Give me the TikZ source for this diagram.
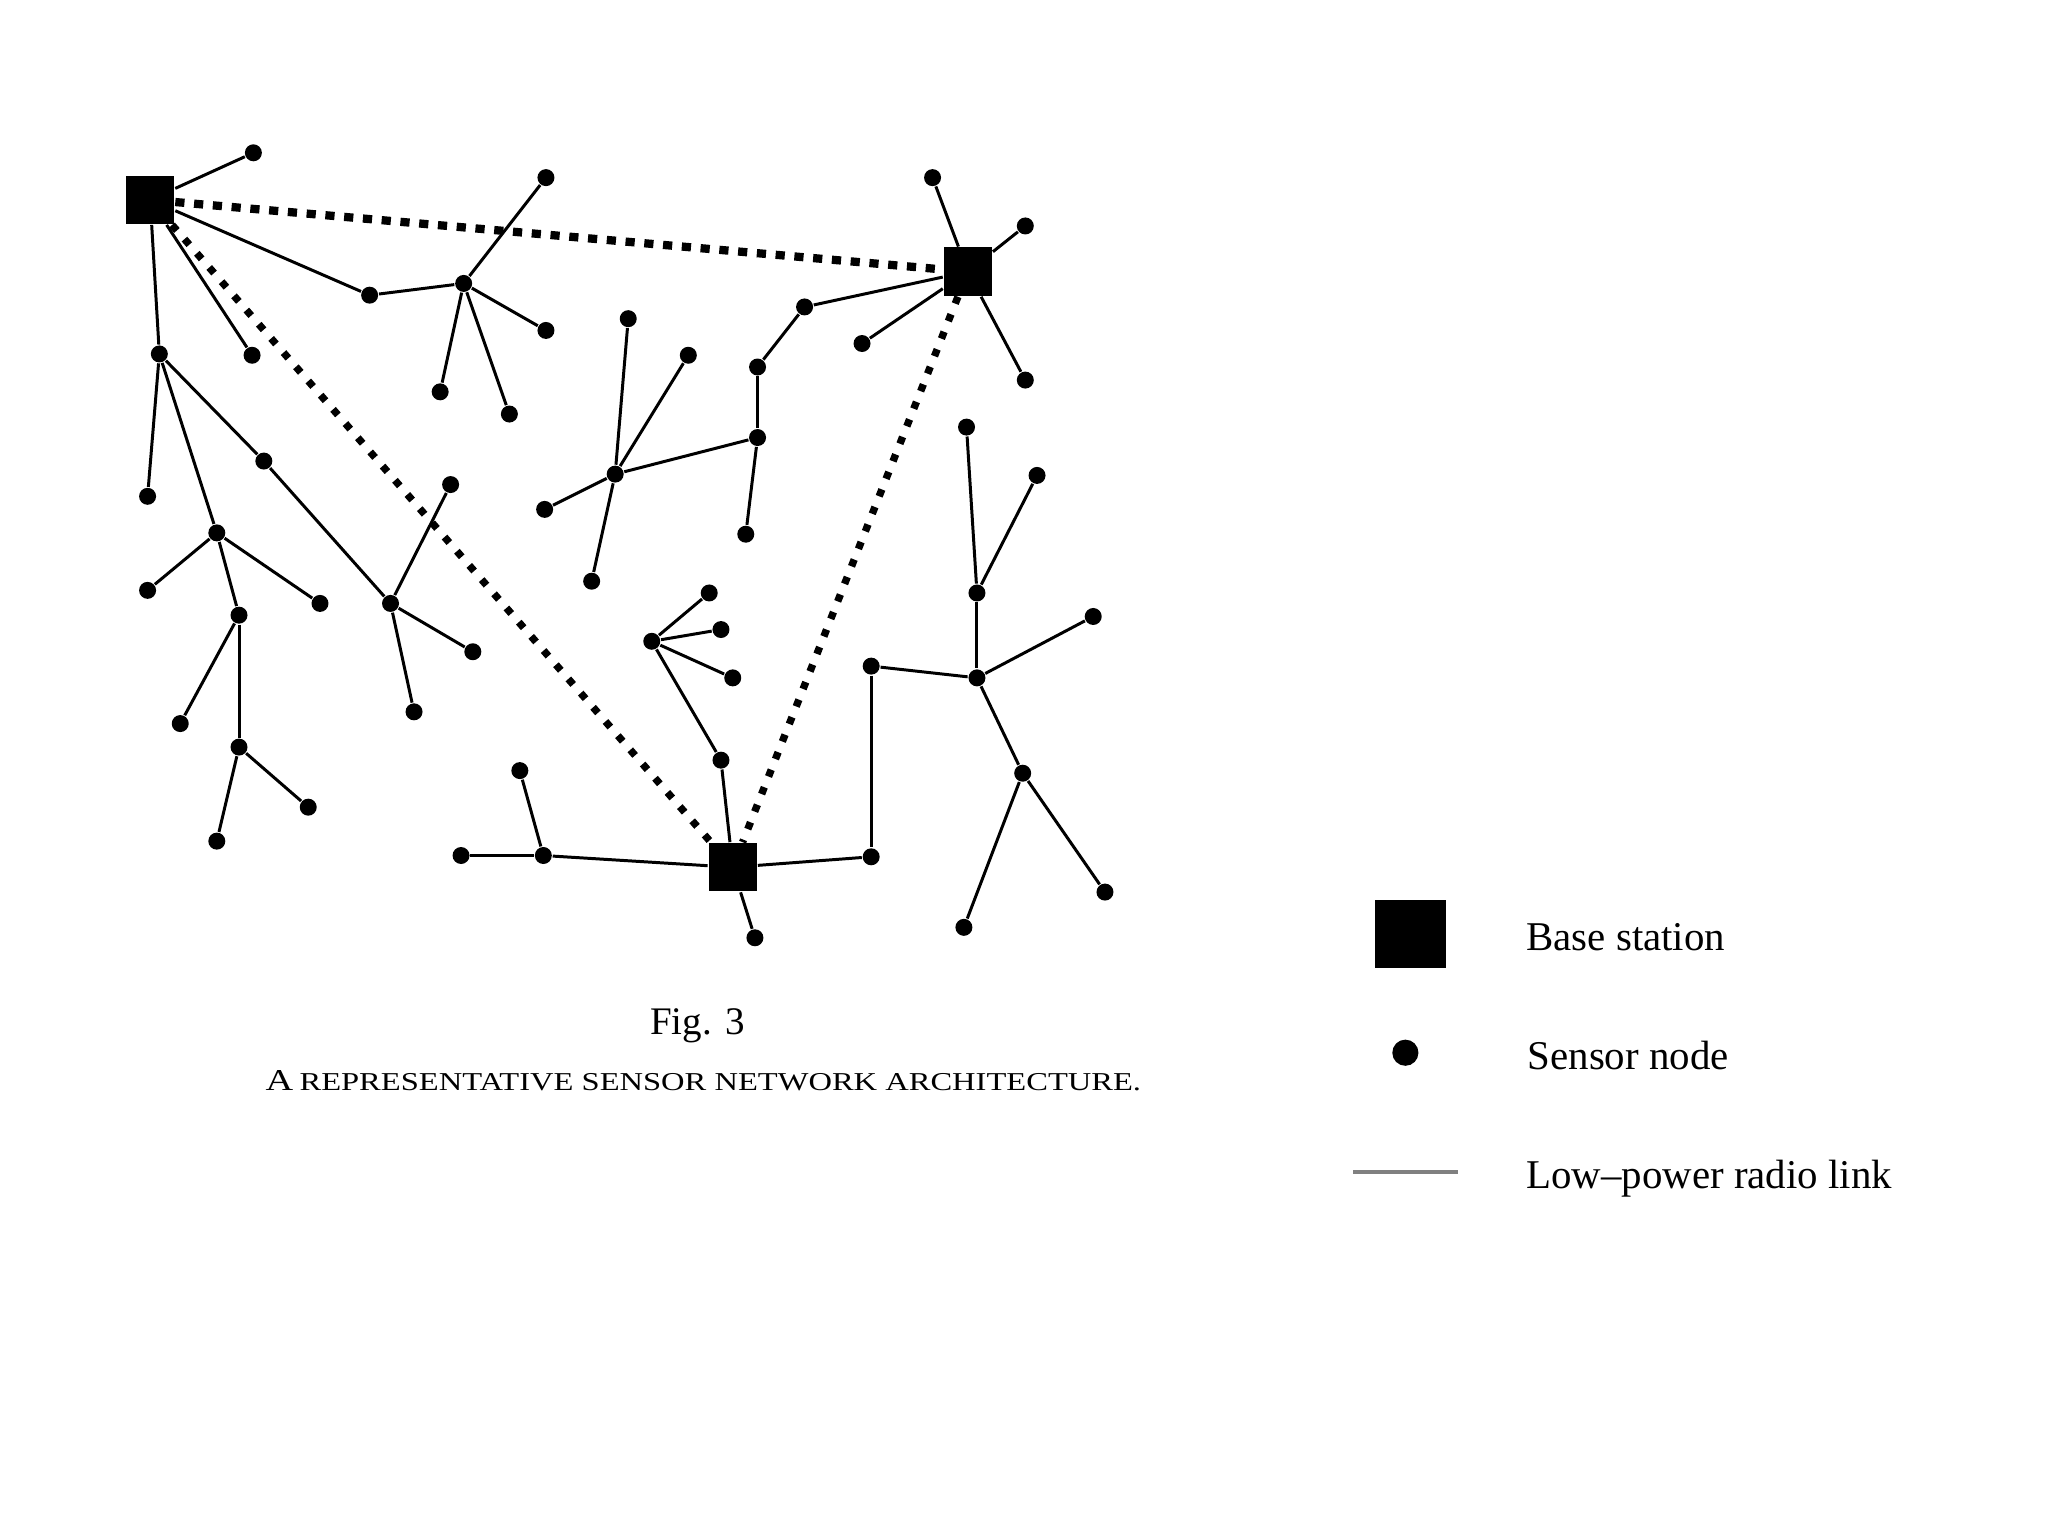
\documentclass[tikz,border=0pt]{standalone}
\usepackage{fontspec}
\setmainfont{Liberation Serif}
\usepackage{graphicx}
\begin{document}
\begin{tikzpicture}[x=0.01cm,y=-0.01cm,
  sensor/.style={circle,fill=black,draw=none,inner sep=0pt,minimum size=0.13cm},
  base/.style={rectangle,fill=black,draw=none,inner sep=0pt,minimum size=0.37cm},
  link/.style={line width=0.65pt,draw=black},
  backbone/.style={line width=1.6pt,dash pattern=on 1.6pt off 2.5pt},
  backbonewide/.style={line width=1.8pt,dash pattern=on 2pt off 2.1pt},
  legtext/.style={anchor=base west,inner sep=0pt,font=\fontsize{8.9}{10}\selectfont}]
\useasboundingbox (0,0) rectangle (1568,1176);
% base stations
\node[base] (B1) at (115,153) {};
\node[base] (B2) at (741,208) {};
\node[base] (B3) at (561,664) {};
% sensor nodes
\foreach \n/\p in {a1/{194,117},a2/{283,226},a3/{355,217},a4/{418,136},a5/{418,253},a6/{337,300},a7/{390,317},a8/{193,272},
  c1/{122,271},c2/{113,380},c3/{202,353},c4/{299,462},c5/{345,371},c6/{362,499},c7/{317,545},c8/{166,408},c9/{113,452},c10/{245,462},c11/{183,471},c12/{138,554},c13/{183,572},c14/{166,644},c15/{236,618},
  m1/{471,363},m2/{481,244},m3/{527,272},m4/{417,390},m5/{453,445},m6/{580,335},m7/{580,281},m8/{616,235},m9/{571,409},
  b1/{714,136},b2/{785,173},b3/{660,263},b4/{785,291},
  r1/{740,327},r2/{748,454},r3/{794,364},r4/{748,519},r5/{837,472},r6/{667,510},r7/{783,592},r8/{738,710},r9/{846,683},r10/{667,656},
  s1/{552,582},s2/{499,491},s3/{543,454},s4/{552,482},s5/{561,519},s6/{416,655},s7/{353,655},s8/{398,590},s9/{578,718}}
  {\node[sensor] (\n) at (\p) {};}
% radio links
\foreach \u/\v in {B1/a1,B1/a2,a2/a3,a3/a4,a3/a5,a3/a6,a3/a7,B1/a8,B1/c1,c1/c2,c1/c3,c3/c4,c4/c5,c4/c6,c4/c7,c1/c8,c8/c9,c8/c10,c8/c11,c11/c12,c11/c13,c13/c14,c13/c15,
  m1/m2,m1/m3,m1/m4,m1/m5,m1/m6,m6/m7,m7/m8,m8/B2,m6/m9,
  B2/b1,B2/b2,B2/b3,B2/b4,
  r1/r2,r2/r3,r2/r4,r4/r5,r4/r6,r4/r7,r7/r8,r7/r9,r6/r10,r10/B3,
  B3/s1,s1/s2,s2/s3,s2/s4,s2/s5,B3/s6,s6/s7,s6/s8,B3/s9}
  {\draw[link] (\u) -- (\v);}
% backbone links between base stations
\draw[backbonewide] (B1) -- (B2);
\draw[backbone] (B1) -- (B3);
\draw[backbone] (B2) -- (B3);
% legend
\node[base,minimum width=0.545cm,minimum height=0.52cm] (LB) at (1080,715) {};
\node[circle,fill=black,inner sep=0pt,minimum size=0.2cm] (LS) at (1076,806) {};
\coordinate (LL1) at (1036,897);
\coordinate (LL2) at (1116,897);
\draw[line width=0.9pt,draw=black!50] (LL1) -- (LL2);
\node[legtext] (T1) at (1168,728) {Base station};
\node[legtext] (T2) at (1169,819) {Sensor node};
\node[legtext] (T3) at (1168,910) {Low–power radio link};
% caption
\node[anchor=base,inner sep=0pt,font=\fontsize{8.5}{10}\selectfont] (fig) at (534,792) {Fig. 3};
\node[anchor=base,inner sep=0pt] (cap) at (538.5,834.6) {\resizebox{6.70cm}{0.153cm}{\fontsize{10}{10}\selectfont A\,{\fontsize{8.5}{10}\selectfont REPRESENTATIVE SENSOR NETWORK ARCHITECTURE.}}};
\end{tikzpicture}
\end{document}
